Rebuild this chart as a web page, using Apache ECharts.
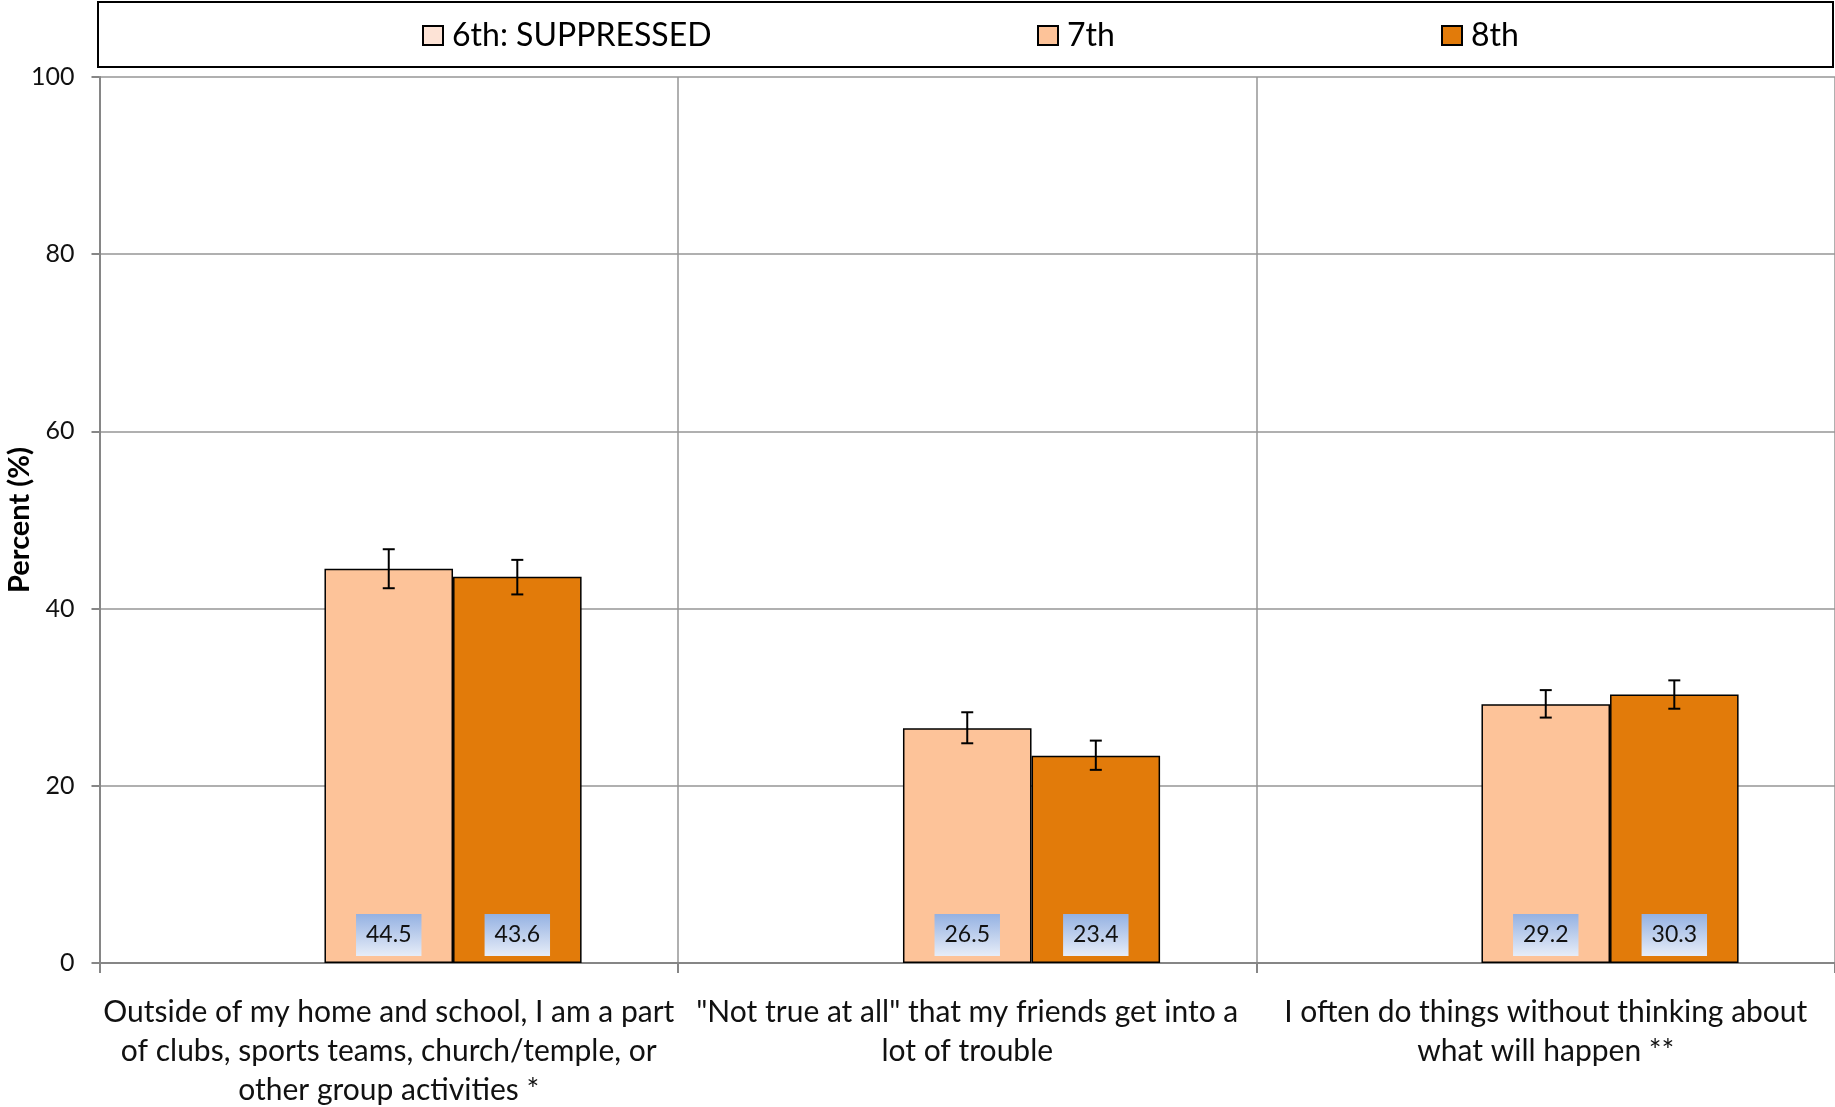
<!DOCTYPE html>
<html>
<head>
<meta charset="utf-8">
<script src="https://cdn.jsdelivr.net/npm/echarts@6/dist/echarts.min.js"></script>
<style>
  html, body { margin: 0; padding: 0; background: #fff; }
  #chart { width: 1835px; height: 1107px; }
</style>
</head>
<body>
<div id="chart"></div>
<script>
// Survey items (x-axis categories)
const categories = [
  'Outside of my home and school, I am a part\nof clubs, sports teams, church/temple, or\nother group activities *',
  '"Not true at all" that my friends get into a\nlot of trouble',
  'I often do things without thinking about\nwhat will happen **'
];
const seriesNames = ['6th: SUPPRESSED', '7th', '8th'];

// Percentages by grade (6th grade suppressed)
const grade6 = [null, null, null];
const grade7 = [44.5, 26.5, 29.2];
const grade8 = [43.6, 23.4, 30.3];

// Confidence interval bounds
const grade7Low = [42.3, 24.8, 27.7];
const grade7High = [46.7, 28.3, 30.8];
const grade8Low = [41.6, 21.8, 28.7];
const grade8High = [45.5, 25.1, 31.9];

// Y-axis ticks
const yMin = 0, yMax = 100, yStep = 20;

const FONT = 'Lato';
const colors = ['#FDE3D6', '#FDC399', '#E27B0A'];
const CAT_GAP = 1 / 3;

const chart = echarts.init(document.getElementById('chart'), null, { renderer: 'canvas' });

const labelBg = new echarts.graphic.LinearGradient(0, 0, 0, 1, [
  { offset: 0, color: '#94b1e2' },
  { offset: 1, color: '#e7edf8' }
]);

function barSeries(name, data, color) {
  return {
    name: name,
    type: 'bar',
    data: data,
    barGap: '0%',
    barCategoryGap: (CAT_GAP * 100) + '%',
    itemStyle: { color: color, borderColor: '#000', borderWidth: 1.5 },
    label: {
      show: true,
      position: 'insideBottom',
      distance: 7,
      formatter: p => (p.value == null ? '' : Number(p.value).toFixed(1)),
      fontFamily: FONT,
      fontSize: 23,
      color: '#111',
      lineHeight: 24,
      padding: [9, 10, 9, 10],
      backgroundColor: labelBg
    },
    z: 2
  };
}

// slot: position of the bar within its category group (0..2)
function errorSeries(lows, highs, slot) {
  return {
    type: 'custom',
    silent: true,
    z: 5,
    data: lows.map((lo, i) => [i, lo, highs[i]]),
    encode: { x: 0, y: [1, 2] },
    renderItem: function (params, api) {
      const i = api.value(0);
      const top = api.coord([i, api.value(2)]);
      const bot = api.coord([i, api.value(1)]);
      const band = api.size([1, 0])[0];
      const barW = band * (1 - CAT_GAP) / 3;
      const x = top[0] + (slot - 1) * barW;
      const cap = 6;
      const style = { stroke: '#000', lineWidth: 2 };
      return {
        type: 'group',
        children: [
          { type: 'line', shape: { x1: x, y1: top[1], x2: x, y2: bot[1] }, style: style },
          { type: 'line', shape: { x1: x - cap, y1: top[1], x2: x + cap, y2: top[1] }, style: style },
          { type: 'line', shape: { x1: x - cap, y1: bot[1], x2: x + cap, y2: bot[1] }, style: style }
        ]
      };
    }
  };
}

function legendAt(name, left) {
  return {
    data: [name],
    left: left,
    top: 17,
    padding: 0,
    icon: 'rect',
    itemWidth: 20,
    itemHeight: 19,
    selectedMode: false,
    textStyle: { fontFamily: FONT, fontSize: 32, color: '#000', lineHeight: 37, padding: [0, 0, 0, 4] }
  };
}

const option = {
  backgroundColor: '#fff',
  animation: false,
  graphic: [{
    type: 'rect',
    shape: { x: 98, y: 2, width: 1735, height: 65 },
    style: { fill: '#fff', stroke: '#000', lineWidth: 2 },
    z: -1
  }],
  legend: [
    legendAt(seriesNames[0], 422),
    legendAt(seriesNames[1], 1037),
    legendAt(seriesNames[2], 1441)
  ],
  grid: { left: 99.5, right: 0, top: 77, bottom: 144, containLabel: false, outerBoundsMode: 'none' },
  xAxis: {
    type: 'category',
    data: categories,
    axisLine: { show: true, lineStyle: { color: '#868686', width: 2 } },
    axisTick: { show: true, length: 10, lineStyle: { color: '#868686', width: 2 } },
    splitLine: { show: true, lineStyle: { color: '#969696', width: 1.5 } },
    axisLabel: {
      interval: 0,
      margin: 30,
      fontFamily: FONT,
      fontSize: 30,
      lineHeight: 39,
      color: '#111',
      align: 'center'
    }
  },
  yAxis: {
    type: 'value',
    min: yMin,
    max: yMax,
    interval: yStep,
    name: 'Percent (%)',
    nameLocation: 'middle',
    nameGap: 65,
    nameMoveOverlap: false,
    nameTextStyle: { fontFamily: FONT, fontSize: 29, fontWeight: 'bold', color: '#000' },
    axisLine: { show: true, lineStyle: { color: '#868686', width: 2 } },
    axisTick: { show: true, length: 8, lineStyle: { color: '#868686', width: 2 } },
    splitLine: { show: true, lineStyle: { color: '#969696', width: 1.5 } },
    axisLabel: { margin: 25, fontFamily: FONT, fontSize: 25, color: '#111' }
  },
  series: [
    barSeries(seriesNames[0], grade6, colors[0]),
    barSeries(seriesNames[1], grade7, colors[1]),
    barSeries(seriesNames[2], grade8, colors[2]),
    errorSeries(grade7Low, grade7High, 1),
    errorSeries(grade8Low, grade8High, 2)
  ]
};

chart.setOption(option);
</script>
</body>
</html>
